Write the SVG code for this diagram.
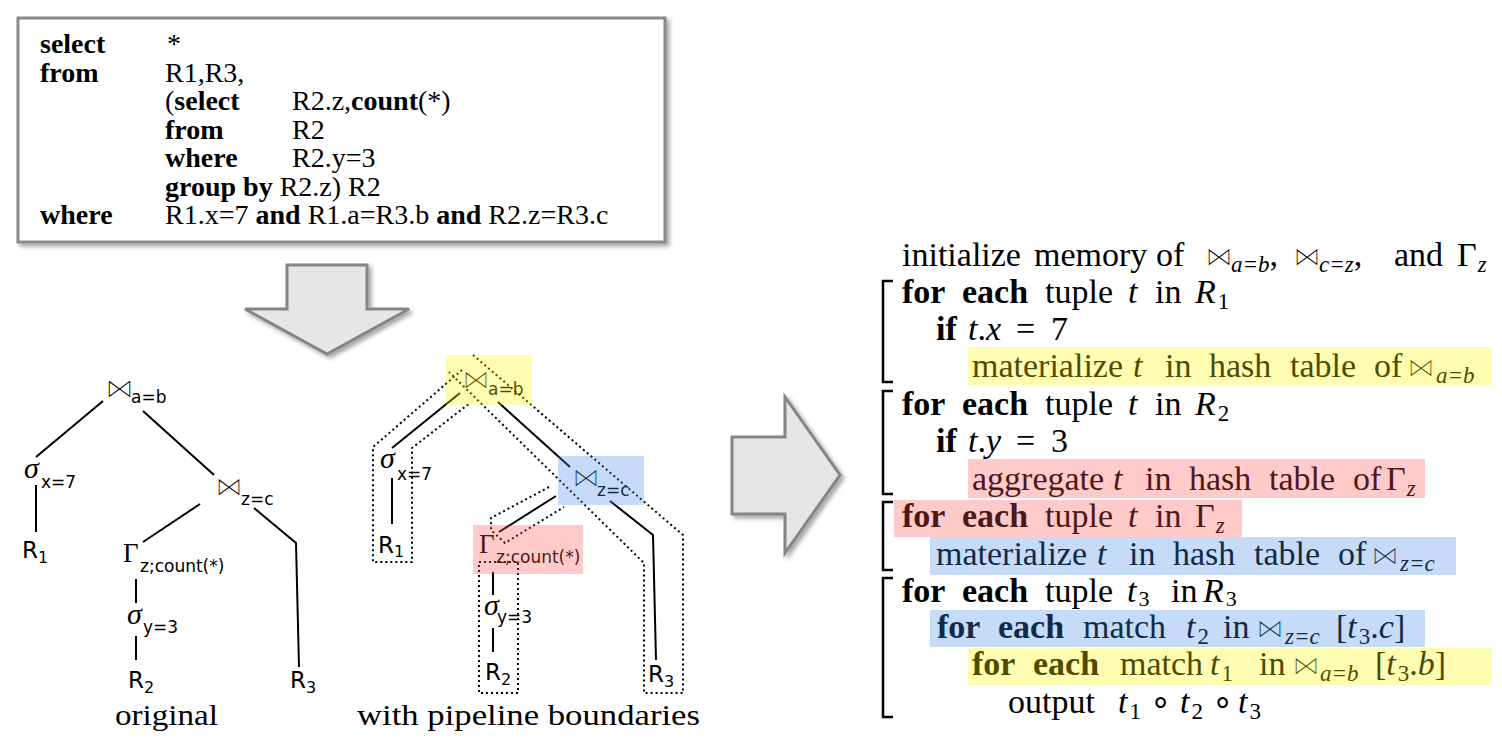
<svg xmlns="http://www.w3.org/2000/svg" width="1502" height="744" viewBox="0 0 1502 744">
<defs>
<filter id="sh" x="-10%" y="-10%" width="130%" height="130%">
<feDropShadow dx="3" dy="3" stdDeviation="2" flood-color="#000" flood-opacity="0.35"/>
</filter>
<style>
.sq{font-family:"Liberation Serif",serif;font-size:28px;fill:#000}
.b{font-weight:bold}
.i{font-style:italic}
.cd{font-family:"Liberation Serif",serif;font-size:34px;fill:#000}
.sub{font-size:23px}
.bt{font-family:"DejaVu Sans",sans-serif;fill:#000;stroke:#fff;stroke-width:1.3}
.tl{font-family:"DejaVu Sans",sans-serif;font-size:23px;fill:#000}
.ts{font-family:"DejaVu Sans",sans-serif;font-size:17px;fill:#000}
.gr{font-family:"Liberation Serif",serif;fill:#000}
.cap{font-family:"Liberation Serif",serif;font-size:29px;fill:#000}
.edge{stroke:#000;stroke-width:2;fill:none}
.dot{stroke:#000;stroke-width:2;fill:none;stroke-dasharray:2 3}
.arr{fill:#e6e6e6;stroke:#858585;stroke-width:3}
.brk{stroke:#000;stroke-width:2.5;fill:none}
.hy{fill:#fff800;fill-opacity:0.3}
.hp{fill:#ff4e4e;fill-opacity:0.3}
.hb{fill:#3e87e4;fill-opacity:0.3}
</style>
</defs>
<rect width="1502" height="744" fill="#fff"/>

<g id="sql">
<rect x="18" y="18" width="647" height="224" fill="#fff" stroke="#8a8a8a" stroke-width="3" filter="url(#sh)"/>
<text class="sq"><tspan x="40" y="53" class="b">select</tspan><tspan x="167" y="53">*</tspan></text>
<text class="sq"><tspan x="40" y="82" class="b">from</tspan><tspan x="165" y="82">R1,R3,</tspan></text>
<text class="sq"><tspan x="165" y="110">(</tspan><tspan class="b">select</tspan><tspan x="292" y="110">R2.z,</tspan><tspan class="b">count</tspan><tspan>(*)</tspan></text>
<text class="sq"><tspan x="165" y="139" class="b">from</tspan><tspan x="292" y="139">R2</tspan></text>
<text class="sq"><tspan x="165" y="167" class="b">where</tspan><tspan x="292" y="167">R2.y=3</tspan></text>
<text class="sq"><tspan x="165" y="196" class="b">group by</tspan><tspan> R2.z) R2</tspan></text>
<text class="sq"><tspan x="40" y="224" class="b">where</tspan><tspan x="165" y="224">R1.x=7 </tspan><tspan class="b">and</tspan><tspan> R1.a=R3.b </tspan><tspan class="b">and</tspan><tspan> R2.z=R3.c</tspan></text>
</g>

<g id="arrow-down">
<polygon class="arr" filter="url(#sh)" points="287,265 367,265 367,309 409,309 327,354 245,309 287,309"/>
</g>
<g id="arrow-right">
<polygon class="arr" filter="url(#sh)" points="732,437 785,437 785,397 840,475 785,553 785,514 732,514"/>
</g>

<g id="connectors">
<line class="edge" x1="103" y1="401" x2="36" y2="457"/>
<line class="edge" x1="143" y1="411" x2="214" y2="475"/>
<line class="edge" x1="36" y1="485" x2="36" y2="532"/>
<line class="edge" x1="200" y1="504" x2="143" y2="542"/>
<polyline class="edge" points="254,508 296,543 299,667"/>
<line class="edge" x1="136" y1="579" x2="136" y2="603"/>
<line class="edge" x1="136" y1="636" x2="136" y2="660"/>

<line class="edge" x1="460" y1="393" x2="392" y2="448"/>
<line class="edge" x1="498" y1="402" x2="570" y2="467"/>
<line class="edge" x1="392" y1="478" x2="392" y2="524"/>
<line class="edge" x1="556" y1="496" x2="499" y2="532"/>
<polyline class="edge" points="610,501 653,535 656,660"/>
<line class="edge" x1="493" y1="572" x2="493" y2="595"/>
<line class="edge" x1="493" y1="628" x2="493" y2="652"/>
</g>

<g id="orig-join-ab"><text class="bt" x="105" y="398" font-size="29">⋈</text><text class="ts" x="131" y="403">a=b</text></g>
<g id="orig-sel-x"><text class="gr i" x="24" y="478" font-size="30">σ</text><text class="ts" x="41" y="488">x=7</text></g>
<g id="orig-r1"><text class="tl" x="22" y="558">R<tspan font-size="16" dy="5">1</tspan></text></g>
<g id="orig-join-zc"><text class="bt" x="215" y="496" font-size="28">⋈</text><text class="ts" x="241" y="505">z=c</text></g>
<g id="orig-gamma"><text class="gr" x="123" y="562" font-size="27">Γ</text><text class="ts" x="140" y="572">z;count(*)</text></g>
<g id="orig-sel-y"><text class="gr i" x="127" y="624" font-size="30">σ</text><text class="ts" x="143" y="633">y=3</text></g>
<g id="orig-r2"><text class="tl" x="128" y="688">R<tspan font-size="16" dy="5">2</tspan></text></g>
<g id="orig-r3"><text class="tl" x="290" y="688">R<tspan font-size="16" dy="5">3</tspan></text></g>
<text class="cap" x="115" y="725" textLength="103" lengthAdjust="spacingAndGlyphs">original</text>

<g id="pipe-join-ab"><text class="bt" x="462" y="389" font-size="28">⋈</text><text class="ts" x="488" y="395">a=b</text></g>
<g id="pipe-sel-x"><text class="gr i" x="380" y="468" font-size="30">σ</text><text class="ts" x="397" y="480">x=7</text></g>
<g id="pipe-r1"><text class="tl" x="378" y="553">R<tspan font-size="16" dy="4">1</tspan></text></g>
<g id="pipe-join-zc"><text class="bt" x="572" y="487" font-size="28">⋈</text><text class="ts" x="597" y="496">z=c</text></g>
<g id="pipe-gamma"><text class="gr" x="479" y="553" font-size="27">Γ</text><text class="ts" x="496" y="563">z;count(*)</text></g>
<g id="pipe-sel-y"><text class="gr i" x="484" y="615" font-size="30">σ</text><text class="ts" x="497" y="623">y=3</text></g>
<g id="pipe-r2"><text class="tl" x="485" y="680">R<tspan font-size="16" dy="5">2</tspan></text></g>
<g id="pipe-r3"><text class="tl" x="648" y="682">R<tspan font-size="16" dy="5">3</tspan></text></g>
<text class="cap" x="357" y="725" textLength="343" lengthAdjust="spacingAndGlyphs">with pipeline boundaries</text>

<g id="pipeline-boundaries">
<polyline class="dot" points="462,370 373,447 373,562 412,562 412,448 470,403"/>
<rect class="dot" x="479" y="562" width="39" height="131"/>
<polyline class="dot" points="549,487 491,518 491,530 505,543 564,507"/>
<polyline class="dot" points="473,355 683,535 683,693 644,693 644,563 449,372"/>
<rect class="hy" x="446" y="355" width="86" height="50"/>
<rect class="hb" x="558" y="456" width="86" height="49"/>
<rect class="hp" x="473" y="525" width="110" height="49"/>
</g>

<g id="code">
<path class="brk" d="M893,281 H883 V382 H893"/>
<path class="brk" d="M893,391 H883 V494 H893"/>
<path class="brk" d="M893,502 H883 V570 H893"/>
<path class="brk" d="M893,578 H883 V717 H893"/>

<text class="cd"><tspan x="902" y="266">initialize</tspan><tspan x="1034">memory</tspan><tspan x="1156">of</tspan><tspan x="1205" class="bt" font-size="28">⋈</tspan><tspan x="1231" dy="6" class="i sub">a=b</tspan><tspan dy="-6">,</tspan><tspan x="1293" class="bt" font-size="28">⋈</tspan><tspan x="1319" dy="6" class="i sub">c=z</tspan><tspan dy="-6">,</tspan><tspan x="1394">and</tspan><tspan x="1457">Γ</tspan><tspan dx="1" dy="6" class="i sub">z</tspan></text>

<text class="cd"><tspan x="902" y="303" class="b">for</tspan><tspan x="962" class="b">each</tspan><tspan x="1045">tuple</tspan><tspan x="1128" class="i">t</tspan><tspan x="1155">in</tspan><tspan x="1195" class="i">R</tspan><tspan dx="2" dy="6" class="sub">1</tspan></text>
<text class="cd"><tspan x="936" y="340" class="b">if</tspan><tspan x="968" class="i">t</tspan><tspan>.</tspan><tspan class="i">x</tspan><tspan x="1016">=</tspan><tspan x="1051">7</tspan></text>
<text class="cd"><tspan x="972" y="377">materialize</tspan><tspan x="1133" class="i">t</tspan><tspan x="1165">in</tspan><tspan x="1209">hash</tspan><tspan x="1290">table</tspan><tspan x="1374">of</tspan><tspan x="1407" class="bt" font-size="28">⋈</tspan><tspan x="1436" dy="6" class="i sub">a=b</tspan></text>

<text class="cd"><tspan x="902" y="415" class="b">for</tspan><tspan x="962" class="b">each</tspan><tspan x="1045">tuple</tspan><tspan x="1128" class="i">t</tspan><tspan x="1155">in</tspan><tspan x="1195" class="i">R</tspan><tspan dx="2" dy="6" class="sub">2</tspan></text>
<text class="cd"><tspan x="936" y="452" class="b">if</tspan><tspan x="968" class="i">t</tspan><tspan>.</tspan><tspan class="i">y</tspan><tspan x="1016">=</tspan><tspan x="1051">3</tspan></text>
<text class="cd"><tspan x="972" y="490">aggregate</tspan><tspan x="1113" class="i">t</tspan><tspan x="1145">in</tspan><tspan x="1189">hash</tspan><tspan x="1269">table</tspan><tspan x="1353">of</tspan><tspan x="1386">Γ</tspan><tspan dx="1" dy="6" class="i sub">z</tspan></text>

<text class="cd"><tspan x="902" y="527" class="b">for</tspan><tspan x="962" class="b">each</tspan><tspan x="1045">tuple</tspan><tspan x="1128" class="i">t</tspan><tspan x="1155">in</tspan><tspan x="1195">Γ</tspan><tspan dx="1" dy="6" class="i sub">z</tspan></text>
<text class="cd"><tspan x="936" y="565">materialize</tspan><tspan x="1097" class="i">t</tspan><tspan x="1129">in</tspan><tspan x="1173">hash</tspan><tspan x="1254">table</tspan><tspan x="1338">of</tspan><tspan x="1371" class="bt" font-size="28">⋈</tspan><tspan x="1400" dy="6" class="i sub">z=c</tspan></text>

<text class="cd"><tspan x="902" y="602" class="b">for</tspan><tspan x="962" class="b">each</tspan><tspan x="1045">tuple</tspan><tspan x="1127" class="i">t</tspan><tspan dx="2" dy="4" font-size="22">3</tspan><tspan x="1171" dy="-4">in</tspan><tspan x="1203" class="i">R</tspan><tspan dx="2" dy="4" font-size="22">3</tspan></text>
<text class="cd"><tspan x="937" y="638" class="b">for</tspan><tspan x="998" class="b">each</tspan><tspan x="1083">match</tspan><tspan x="1186" class="i">t</tspan><tspan dx="2" dy="6" class="sub">2</tspan><tspan x="1223" dy="-6">in</tspan><tspan x="1256" class="bt" font-size="28">⋈</tspan><tspan x="1285" dy="6" class="i sub">z=c</tspan><tspan x="1336" dy="-6">[</tspan><tspan class="i">t</tspan><tspan dx="2" dy="6" class="sub">3</tspan><tspan dy="-6">.</tspan><tspan class="i">c</tspan><tspan>]</tspan></text>
<text class="cd"><tspan x="972" y="675" class="b">for</tspan><tspan x="1033" class="b">each</tspan><tspan x="1120">match</tspan><tspan x="1210" class="i">t</tspan><tspan dx="2" dy="6" class="sub">1</tspan><tspan x="1259" dy="-6">in</tspan><tspan x="1292" class="bt" font-size="28">⋈</tspan><tspan x="1320" dy="6" class="i sub">a=b</tspan><tspan x="1375" dy="-6">[</tspan><tspan class="i">t</tspan><tspan dx="2" dy="6" class="sub">3</tspan><tspan dy="-6">.</tspan><tspan class="i">b</tspan><tspan>]</tspan></text>
<text class="cd"><tspan x="1008" y="713">output</tspan><tspan x="1118" class="i">t</tspan><tspan dx="2" dy="6" class="sub">1</tspan><tspan x="1150" dy="-6">∘</tspan><tspan x="1180" class="i">t</tspan><tspan dx="2" dy="6" class="sub">2</tspan><tspan x="1212" dy="-6">∘</tspan><tspan x="1238" class="i">t</tspan><tspan dx="2" dy="6" class="sub">3</tspan></text>

<rect class="hy" x="968" y="347" width="524" height="38"/>
<rect class="hp" x="968" y="459" width="457" height="39"/>
<rect class="hp" x="894" y="500" width="348" height="37"/>
<rect class="hb" x="930" y="537" width="526" height="38"/>
<rect class="hb" x="930" y="610" width="495" height="37"/>
<rect class="hy" x="968" y="648" width="524" height="37"/>
</g>
</svg>
